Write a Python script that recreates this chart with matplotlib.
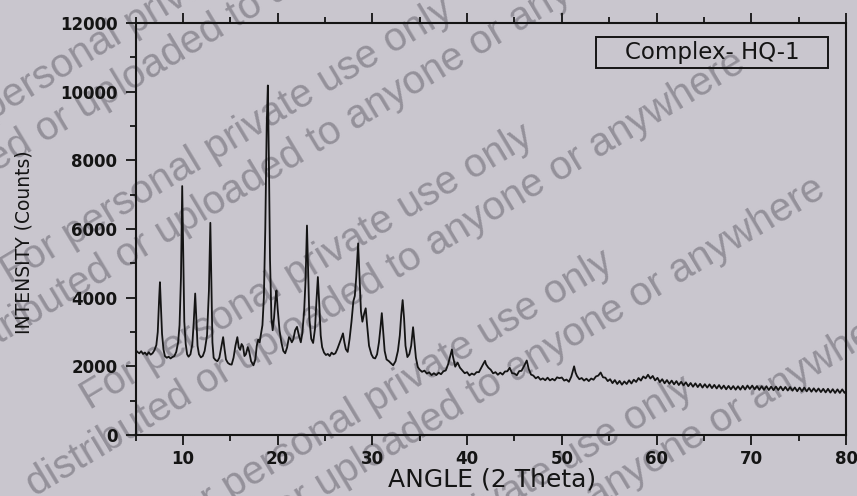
import matplotlib
matplotlib.use("Agg")
import matplotlib.pyplot as plt
from matplotlib.ticker import MultipleLocator
from matplotlib.patches import Rectangle

# ---------------- data ----------------
angle_low = [5.0, 5.2, 5.4, 5.6, 5.8, 6.0, 6.2, 6.4, 6.6, 6.8, 7.0, 7.2, 7.35, 7.5, 7.58, 7.66, 7.8, 7.95,
             8.1, 8.3, 8.5, 8.7, 8.9, 9.1, 9.3, 9.5, 9.65, 9.8, 9.93, 10.05, 10.15, 10.3, 10.45, 10.6,
             10.8, 11.0, 11.15, 11.3, 11.42, 11.55, 11.7, 11.9, 12.1, 12.3, 12.55, 12.75, 12.9, 13.02,
             13.12, 13.25, 13.45, 13.65, 13.85, 14.05, 14.25, 14.4, 14.55, 14.75, 14.95, 15.15, 15.35,
             15.55, 15.75, 15.9, 16.05, 16.2, 16.35, 16.5, 16.65, 16.85, 17.0, 17.2, 17.45, 17.65, 17.8,
             17.95, 18.1, 18.25, 18.4, 18.55, 18.7, 18.85, 18.97, 19.08, 19.2, 19.35, 19.48, 19.62,
             19.78, 19.88, 20.0]
counts_low = [2480, 2420, 2380, 2440, 2360, 2400, 2330, 2410, 2340, 2380, 2470, 2620, 3000, 4000, 4450,
              3900, 2950, 2500, 2300, 2250, 2280, 2230, 2270, 2300, 2420, 2700, 3200, 4600, 7250, 5200,
              3300, 2650, 2350, 2280, 2350, 2650, 3300, 4120, 3400, 2600, 2350, 2260, 2300, 2450, 2900,
              4200, 6180, 4300, 2700, 2250, 2180, 2150, 2250, 2550, 2850, 2500, 2200, 2100, 2060, 2050,
              2250, 2600, 2850, 2550, 2480, 2650, 2580, 2300, 2350, 2560, 2430, 2150, 2030, 2200, 2600,
              2780, 2700, 2950, 3200, 4000, 6000, 9000, 10180, 8000, 5100, 3400, 3050, 3400, 4000, 4210,
              3700]

angle_mid = [20.2, 20.4, 20.6, 20.8, 21.0, 21.2, 21.35, 21.5, 21.65, 21.85, 22.05, 22.25, 22.45, 22.6,
             22.8, 22.95, 23.1, 23.22, 23.35, 23.55, 23.75, 23.95, 24.1, 24.25, 24.4, 24.55, 24.7, 24.9,
             25.1, 25.3, 25.5, 25.7, 25.9, 26.1, 26.3, 26.5, 26.7, 26.9, 27.05, 27.2, 27.4, 27.6, 27.8,
             28.0, 28.15, 28.3, 28.5, 28.65, 28.8, 28.95, 29.15, 29.3, 29.45, 29.65, 29.9, 30.1, 30.3,
             30.5, 30.7, 30.85, 31.0, 31.15, 31.3, 31.5, 31.75, 32.0, 32.2, 32.45, 32.7, 32.9, 33.05,
             33.2, 33.35, 33.5, 33.7, 33.9, 34.1, 34.3, 34.45, 34.6, 34.8]
counts_mid = [3050, 2700, 2450, 2380, 2550, 2850, 2800, 2700, 2780, 3050, 3150, 2900, 2700, 2950, 3600,
              4500, 6100, 4800, 3400, 2800, 2680, 3100, 3900, 4600, 3800, 2900, 2560, 2400, 2330, 2360,
              2300, 2400, 2350, 2380, 2500, 2650, 2800, 2960, 2700, 2500, 2420, 2800, 3300, 3900, 4050,
              4600, 5580, 4600, 3600, 3300, 3550, 3690, 3200, 2600, 2350, 2250, 2230, 2350, 2700, 3100,
              3550, 3000, 2450, 2200, 2150, 2080, 2030, 2150, 2450, 2900, 3500, 3930, 3400, 2600, 2270,
              2350, 2600, 3140, 2700, 2250, 1980]

angle_high = [35.0, 35.25, 35.5, 35.75, 36.0, 36.25, 36.5, 36.75, 37.0, 37.25, 37.5, 37.75, 38.0, 38.25,
              38.4, 38.5, 38.75, 39.0, 39.25, 39.5, 39.75, 40.0, 40.25, 40.5, 40.75, 41.0, 41.25, 41.5,
              41.75, 41.9, 42.0, 42.25, 42.5, 42.75, 43.0, 43.25, 43.5, 43.75, 44.0, 44.25, 44.5, 44.75,
              45.0, 45.25, 45.5, 45.75, 46.0, 46.3, 46.5, 46.75, 47.0, 47.25, 47.5, 47.75, 48.0, 48.25,
              48.5, 48.75, 49.0, 49.25, 49.5, 49.75, 50.0, 50.25, 50.5, 50.75, 51.0, 51.15, 51.3, 51.45,
              51.6, 51.85, 52.1, 52.35, 52.6, 52.85, 53.1, 53.35, 53.6, 53.85, 54.1, 54.35, 54.6, 54.85,
              55.1, 55.35, 55.6, 55.85, 56.1, 56.35, 56.6, 56.85, 57.1, 57.35, 57.6, 57.85, 58.1, 58.35,
              58.6, 58.85, 59.1, 59.35, 59.6, 59.85, 60.1, 60.35, 60.6, 60.85, 61.1, 61.35, 61.6, 61.85,
              62.1, 62.35, 62.6, 62.85, 63.1, 63.35, 63.6, 63.85, 64.1, 64.35, 64.6, 64.85, 65.1, 65.35,
              65.6, 65.85, 66.1, 66.35, 66.6, 66.85, 67.1, 67.35, 67.6, 67.85, 68.1, 68.35, 68.6, 68.85,
              69.1, 69.35, 69.6, 69.85, 70.1, 70.35, 70.6, 70.85, 71.1, 71.35, 71.6, 71.85, 72.1, 72.35,
              72.6, 72.85, 73.1, 73.35, 73.6, 73.85, 74.1, 74.35, 74.6, 74.85, 75.1, 75.35, 75.6, 75.85,
              76.1, 76.35, 76.6, 76.85, 77.1, 77.35, 77.6, 77.85, 78.1, 78.35, 78.6, 78.85, 79.1, 79.35,
              79.6, 79.85, 80.0]
counts_high = [1900, 1840, 1875, 1790, 1825, 1745, 1800, 1745, 1815, 1770, 1855, 1880, 2060, 2330, 2490,
               2300, 1990, 2110, 1960, 1880, 1800, 1830, 1735, 1790, 1755, 1830, 1830, 1960, 2090, 2160,
               2060, 1960, 1900, 1795, 1830, 1755, 1815, 1760, 1850, 1855, 1960, 1800, 1790, 1740, 1860,
               1870, 2000, 2170, 1930, 1760, 1730, 1650, 1695, 1610, 1650, 1595, 1670, 1590, 1635, 1590,
               1680, 1655, 1675, 1585, 1615, 1550, 1700, 1850, 2000, 1820, 1720, 1625, 1660, 1585, 1640,
               1570, 1645, 1610, 1705, 1730, 1820, 1680, 1670, 1570, 1625, 1510, 1600, 1485, 1575, 1465,
               1560, 1485, 1595, 1500, 1610, 1545, 1660, 1585, 1705, 1650, 1755, 1645, 1720, 1590, 1665,
               1540, 1625, 1505, 1600, 1490, 1585, 1475, 1570, 1455, 1550, 1445, 1535, 1420, 1515, 1405,
               1505, 1395, 1490, 1380, 1480, 1380, 1475, 1365, 1460, 1355, 1455, 1345, 1440, 1330, 1430,
               1330, 1425, 1320, 1420, 1320, 1430, 1325, 1440, 1340, 1440, 1330, 1425, 1315, 1420, 1315,
               1420, 1310, 1410, 1305, 1410, 1310, 1410, 1300, 1400, 1295, 1395, 1290, 1385, 1275, 1380,
               1275, 1380, 1270, 1370, 1260, 1360, 1260, 1355, 1250, 1345, 1240, 1345, 1235, 1335, 1225,
               1330, 1225, 1330, 1225, 1280]

series_label = "Complex- HQ-1"
x_label = "ANGLE (2 Theta)"
y_label = "INTENSITY (Counts)"
watermark_a = "For personal private use only"
watermark_b = "distributed or uploaded to anyone or anywhere"

two_theta = angle_low + angle_mid + angle_high
intensity = counts_low + counts_mid + counts_high

# ---------------- figure ----------------
W, H = 857, 496
bg = "#c9c6ce"
ink = "#141414"
wm_color = "#94919a"

fig = plt.figure(figsize=(W / 100, H / 100), dpi=100, facecolor=bg)
L, R, T, B = 135.5, 846.0, 23.0, 435.0
ax = fig.add_axes([L / W, 1 - B / H, (R - L) / W, (B - T) / H])
ax.set_facecolor("none")

ax.plot(two_theta, intensity, color=ink, lw=1.3, zorder=3)

ax.set_xlim(5, 80)
ax.set_ylim(0, 12000)
ax.xaxis.set_major_locator(MultipleLocator(10))
ax.xaxis.set_minor_locator(MultipleLocator(5))
ax.yaxis.set_major_locator(MultipleLocator(2000))
ax.yaxis.set_minor_locator(MultipleLocator(1000))

for s in ax.spines.values():
    s.set_linewidth(1.5)
    s.set_color(ink)

ax.tick_params(axis="both", which="both", direction="out", color=ink, width=1.3,
               top=True, right=False, labeltop=False)
ax.tick_params(axis="both", which="major", length=7)
ax.tick_params(axis="both", which="minor", length=4)
ax.tick_params(axis="x", which="major", pad=4, labelsize=12, labelcolor=ink)
ax.tick_params(axis="y", which="major", pad=6, labelsize=12, labelcolor=ink)
for lab in ax.get_xticklabels() + ax.get_yticklabels():
    lab.set_fontweight("bold")
    lab.set_family("DejaVu Sans")

# axis titles
fig.text(492 / W, 1 - 479 / H, x_label, ha="center", va="center", fontsize=18, color=ink)
fig.text(24 / W, 1 - 242 / H, y_label, ha="center", va="center", rotation=90, fontsize=13.5, color=ink)

# legend box
bx0, bx1, by0, by1 = 596, 828, 37, 68
ax.add_patch(Rectangle(((bx0 - L) / (R - L), (B - by1) / (B - T)), (bx1 - bx0) / (R - L),
                       (by1 - by0) / (B - T), transform=ax.transAxes, fill=False,
                       edgecolor=ink, lw=1.4, zorder=4))
ax.text(((bx0 + bx1) / 2 - L) / (R - L), (B - (by0 + by1) / 2) / (B - T), series_label,
        transform=ax.transAxes, ha="center", va="center", fontsize=16.5, color=ink, zorder=5)

# watermark (behind the chart)
ang = 31
step = (80, 126)
startA = (90, 410)
startB = (35, 497)
for k in range(-3, 4):
    for (sx, sy), txt in ((startA, watermark_a), (startB, watermark_b)):
        px = sx + k * step[0]
        py = sy + k * step[1]
        fig.text(px / W, 1 - py / H, txt, rotation=ang, rotation_mode="anchor",
                 ha="left", va="baseline", fontsize=29, color=wm_color,
                 family=["Liberation Sans", "DejaVu Sans"], zorder=-1)

fig.savefig("out.png", dpi=100, facecolor=bg)
